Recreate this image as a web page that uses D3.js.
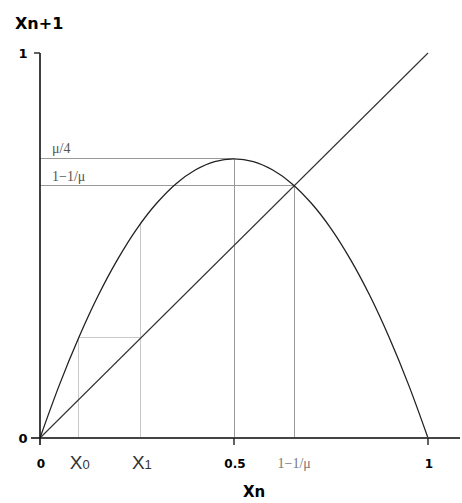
<!DOCTYPE html>
<html>
<head>
<meta charset="utf-8">
<script src="https://cdn.jsdelivr.net/npm/d3@7"></script>
<style>
  html, body { margin: 0; padding: 0; background: #fff; }
  svg { display: block; }
</style>
</head>
<body>
<svg id="chart" width="462" height="503"></svg>
<script>
// Logistic map x(n+1) = mu * x(n) * (1 - x(n)) with mu about 2.9
const curveX = [0, 0.05, 0.1, 0.15, 0.2, 0.25, 0.3, 0.35, 0.4, 0.45, 0.5,
                0.55, 0.6, 0.65, 0.7, 0.75, 0.8, 0.85, 0.9, 0.95, 1];
const curveY = [0, 0.138, 0.261, 0.370, 0.464, 0.544, 0.609, 0.660, 0.696, 0.718, 0.725,
                0.718, 0.696, 0.660, 0.609, 0.544, 0.464, 0.370, 0.261, 0.138, 0];

// Key points
const peakX = 0.5, peakY = 0.725;          // vertex, height mu/4
const fixedX = 0.655;                        // fixed point 1 - 1/mu
const iterX = [0.1, 0.26];                   // x0, x1
const iterY = [0.26, 0.56];                  // f(x0), f(x1)

const xTickVals = [0, 0.5, 1];
const xTickText = ["0", "0.5", "1"];
const yTickVals = [0, 1];
const yTickText = ["0", "1"];

const svg = d3.select("#chart");
const x = d3.scaleLinear().domain([0, 1]).range([40, 428]);
const y = d3.scaleLinear().domain([0, 1]).range([438, 53]);

const bold = "'DejaVu Sans', Verdana, sans-serif";
const serif = "'Liberation Serif', 'Times New Roman', serif";
const sans = "'Liberation Sans', Arial, sans-serif";

// Cobweb guide lines (light)
const light = "#c9c9c9", mid = "#9a9a9a";
const seg = (x1, y1, x2, y2, c) => svg.append("line")
  .attr("x1", x(x1)).attr("y1", y(y1)).attr("x2", x(x2)).attr("y2", y(y2))
  .attr("stroke", c).attr("stroke-width", 1).attr("shape-rendering", "crispEdges");

seg(iterX[0], 0, iterX[0], iterY[0], light);
seg(iterX[0], iterY[0], iterX[1], iterY[0], light);
seg(iterX[1], 0, iterX[1], iterY[1], light);

// Peak and fixed-point guides
seg(0, peakY, peakX, peakY, mid);
seg(peakX, 0, peakX, peakY, mid);
seg(0, fixedX, fixedX, fixedX, mid);
seg(fixedX, 0, fixedX, fixedX, mid);

// Diagonal x(n+1) = x(n)
svg.append("line")
  .attr("x1", x(0)).attr("y1", y(0)).attr("x2", x(1)).attr("y2", y(1))
  .attr("stroke", "#333").attr("stroke-width", 1.1);

// Parabola
const pts = curveX.map((v, i) => [v, curveY[i]]);
svg.append("path")
  .datum(pts)
  .attr("fill", "none")
  .attr("stroke", "#222")
  .attr("stroke-width", 1.3)
  .attr("d", d3.line().x(d => x(d[0])).y(d => y(d[1])).curve(d3.curveCatmullRom));

// Axes
svg.append("line").attr("x1", 31).attr("x2", 460).attr("y1", y(0)).attr("y2", y(0))
  .attr("stroke", "#444").attr("stroke-width", 2);
svg.append("line").attr("x1", x(0)).attr("x2", x(0)).attr("y1", y(1)).attr("y2", y(0) + 7)
  .attr("stroke", "#111").attr("stroke-width", 1.6);

// x ticks
svg.selectAll("line.xt").data(xTickVals.slice(1)).enter().append("line")
  .attr("x1", d => x(d)).attr("x2", d => x(d))
  .attr("y1", y(0)).attr("y2", y(0) + 7)
  .attr("stroke", "#222").attr("stroke-width", 1.4);
// y ticks
svg.selectAll("line.yt").data(yTickVals.slice(1)).enter().append("line")
  .attr("x1", x(0) - 6).attr("x2", x(0))
  .attr("y1", d => y(d)).attr("y2", d => y(d))
  .attr("stroke", "#222").attr("stroke-width", 1.4);

// Tick labels
svg.selectAll("text.xl").data(xTickVals).enter().append("text")
  .attr("x", d => x(d) + 1).attr("y", 468)
  .attr("text-anchor", "middle")
  .attr("font-family", bold).attr("font-weight", "bold").attr("font-size", 12)
  .attr("fill", "#000")
  .text((d, i) => xTickText[i]);

svg.selectAll("text.yl").data(yTickVals).enter().append("text")
  .attr("x", 23).attr("y", d => y(d) + 5)
  .attr("text-anchor", "middle")
  .attr("font-family", bold).attr("font-weight", "bold").attr("font-size", 13)
  .attr("fill", "#000")
  .text((d, i) => yTickText[i]);

// Iterate labels x0, x1
const iterNames = ["0", "1"];
iterX.forEach((v, i) => {
  const t = svg.append("text")
    .attr("x", x(v) + 1).attr("y", 469)
    .attr("text-anchor", "middle")
    .attr("font-family", sans).attr("font-size", 19).attr("fill", "#333");
  t.append("tspan").text("X");
  t.append("tspan").attr("font-size", 13).text(iterNames[i]);
});

// Fixed point label on x axis
svg.append("text")
  .attr("x", x(fixedX)).attr("y", 468)
  .attr("text-anchor", "middle")
  .attr("font-family", serif).attr("font-size", 14).attr("fill", "#777")
  .text("1\u22121/\u03bc");

// Labels on left guides
svg.append("text")
  .attr("x", 52).attr("y", 153)
  .attr("font-family", serif).attr("font-size", 14).attr("fill", "#555")
  .text("\u03bc/4");
svg.append("text")
  .attr("x", 52).attr("y", 181)
  .attr("font-family", serif).attr("font-size", 14).attr("fill", "#555")
  .text("1\u22121/\u03bc");

// Axis titles
svg.append("text")
  .attr("x", 254).attr("y", 497)
  .attr("text-anchor", "middle")
  .attr("font-family", bold).attr("font-weight", "bold").attr("font-size", 15)
  .attr("fill", "#000")
  .text("Xn");
svg.append("text")
  .attr("x", 15).attr("y", 29)
  .attr("font-family", bold).attr("font-weight", "bold").attr("font-size", 16)
  .attr("fill", "#000")
  .text("Xn+1");
</script>
</body>
</html>
